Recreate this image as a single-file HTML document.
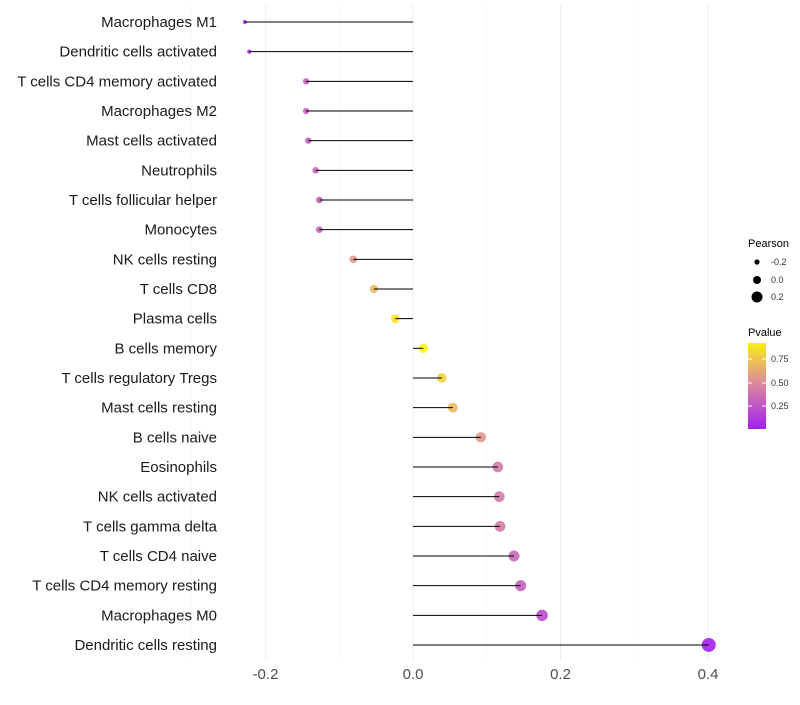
<!DOCTYPE html>
<html><head><meta charset="utf-8"><style>
body{margin:0;background:#fff;font-family:"Liberation Sans",sans-serif}
</style></head><body>
<svg id="c" width="800" height="700" xmlns="http://www.w3.org/2000/svg"></svg>
<script>
const categories=["Macrophages M1","Dendritic cells activated","T cells CD4 memory activated","Macrophages M2","Mast cells activated","Neutrophils","T cells follicular helper","Monocytes","NK cells resting","T cells CD8","Plasma cells","B cells memory","T cells regulatory  Tregs ","Mast cells resting","B cells naive","Eosinophils","NK cells activated","T cells gamma delta","T cells CD4 naive","T cells CD4 memory resting","Macrophages M0","Dendritic cells resting"];
const pearson=[-0.228,-0.222,-0.145,-0.145,-0.142,-0.132,-0.127,-0.127,-0.081,-0.053,-0.024,0.014,0.039,0.054,0.092,0.115,0.117,0.118,0.137,0.146,0.175,0.401];
const pvalue=[0.05,0.06,0.3,0.3,0.3,0.33,0.33,0.33,0.55,0.7,0.88,0.95,0.8,0.7,0.55,0.42,0.42,0.42,0.33,0.3,0.2,0.01];
const xTicks=[-0.2,0.0,0.2,0.4];
const xTickLabels=["-0.2","0.0","0.2","0.4"];
const ns="http://www.w3.org/2000/svg";
const svg=document.getElementById('c');
const X=v=>413+v*737.5;
const Y=i=>22+i*29.666;
const R=v=>Math.sqrt(Math.max(1,20.4+71.4*v));
function col(p){
 const stops=[[0,[160,32,240]],[0.5,[220,140,156]],[1,[255,255,0]]];
 p=Math.max(0,Math.min(1,p));
 let a=stops[0],b=stops[1];if(p>0.5){a=stops[1];b=stops[2];}
 const t=(p-a[0])/(b[0]-a[0]);
 return 'rgb('+a[1].map((c,k)=>Math.round(c+(b[1][k]-c)*t)).join(',')+')';
}
function el(t,at,txt){const e=document.createElementNS(ns,t);for(const k in at)e.setAttribute(k,at[k]);if(txt!=null)e.textContent=txt;svg.appendChild(e);return e;}
[-0.3,-0.1,0.1,0.3].forEach(v=>{const g=el('line',{x1:X(v),x2:X(v),y1:5,y2:660,stroke:'#f5f5f5','stroke-width':0.6});

});
xTicks.forEach((v,i)=>{const g=el('line',{x1:X(v),x2:X(v),y1:5,y2:660,stroke:'#eeeeee','stroke-width':1});


const t=el('text',{x:X(v),y:679,'text-anchor':'middle','font-size':15,fill:'#4d4d4d'},xTickLabels[i]);

});
categories.forEach((c,i)=>{
 const t=el('text',{x:217,y:Y(i)+5,'text-anchor':'end','font-size':15,fill:'#1a1a1a'},c);
 
 
 const p=el('circle',{cx:X(pearson[i]),cy:Y(i),r:R(pearson[i]),fill:col(pvalue[i]),'fill-opacity':0.9});
 
 
 const l=el('line',{x1:X(0),x2:X(pearson[i]),y1:Y(i),y2:Y(i),stroke:'#000','stroke-width':1});
 
 
});
const lt=el('text',{x:748,y:247,'font-size':11,fill:'#000'},'Pearson');


[[-0.2,262],[0,280],[0.2,297]].forEach(([v,y])=>{
 const c=el('circle',{cx:757,cy:y,r:[2.6,4,5.5][[-0.2,0,0.2].indexOf(v)],fill:'#000'});
 
 
 const t=el('text',{x:771,y:y+3,'font-size':9,fill:'#333'},v.toFixed(1));
 
 
});
const pt=el('text',{x:748,y:336,'font-size':11,fill:'#000'},'Pvalue');


const defs=el('defs',{});
const lg=document.createElementNS(ns,'linearGradient');lg.setAttribute('id','g');lg.setAttribute('x1',0);lg.setAttribute('x2',0);lg.setAttribute('y1',1);lg.setAttribute('y2',0);
for(let k=0;k<=10;k++){const s=document.createElementNS(ns,'stop');s.setAttribute('offset',k/10);s.setAttribute('stop-color',col(0.005+k/10*0.915));lg.appendChild(s);}
defs.appendChild(lg);
const bar=el('rect',{x:748,y:343,width:18,height:86,fill:'url(#g)'});


[[0.75,359],[0.5,383],[0.25,406]].forEach(([v,y])=>{
 el('line',{x1:748,x2:752,y1:y,y2:y,stroke:'#fff'});el('line',{x1:762,x2:766,y1:y,y2:y,stroke:'#fff'});
 const t=el('text',{x:771,y:y+3,'font-size':9,fill:'#333'},v.toFixed(2));
 
 
});
</script>
</body></html>
